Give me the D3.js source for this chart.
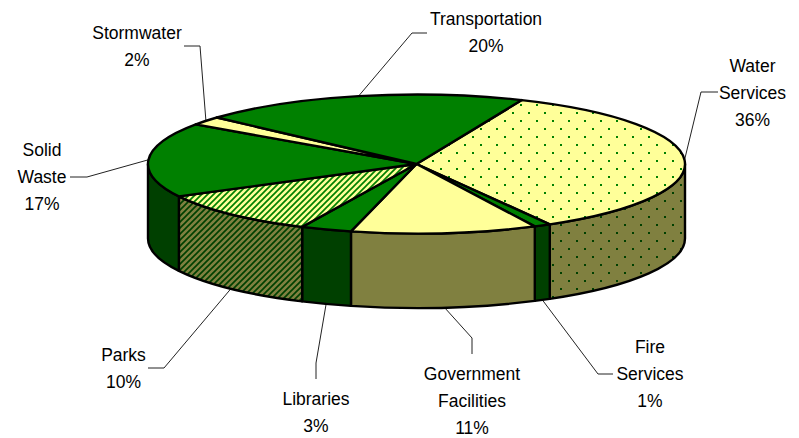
<!DOCTYPE html>
<html><head><meta charset="utf-8">
<script src="https://cdn.jsdelivr.net/npm/d3@7"></script>
<style>html,body{margin:0;padding:0;background:#fff}svg{display:block}text{font-family:"Liberation Sans",Arial,sans-serif;font-size:17.5px;fill:#000}</style>
</head><body><svg id="c" width="799" height="438"></svg>
<script>
const categories = ["Water Services","Fire Services","Government Facilities","Libraries","Parks","Solid Waste","Stormwater","Transportation"];
const values = [36,1,11,3,10,17,2,20];
const labelLines = [["Water","Services","36%"],["Fire","Services","1%"],["Government","Facilities","11%"],["Libraries","3%"],["Parks","10%"],["Solid","Waste","17%"],["Stormwater","2%"],["Transportation","20%"]];
const topFills = ["dotsTop","green","yellow","green","stripesTop","green","yellow","green"];
const sideFills = ["dotsSide","dark","olive","dark","stripesSide","dark","olive","dark"];

// layout
const W=799,H=438,cx=416.5,cy=164,rx=268.5,ry=69.5,depth=74.5,startDeg=22.3;
const rad=Math.PI/180,warpAmp=1.7*rad,warpPhase=50*rad;
const warp=a=>a-warpAmp*Math.sin(a-warpPhase); // perspective of the tilted disc
const labelLayout=[
 {x:752.5,y:72,elbow:[[701,92],[718,92]]},
 {x:650,y:353,elbow:[[598,374],[613,374]]},
 {x:472,y:380,elbow:[[472,338],[472,354]]},
 {x:316,y:405,elbow:[[316,363],[316,379]]},
 {x:123.5,y:361,elbow:[[164,368],[148,368]]},
 {x:42,y:156,elbow:[[87,177],[70,177]]},
 {x:137,y:39,elbow:[[200,46],[184,46]]},
 {x:486,y:25,elbow:[[412,33],[427,33]]}
];
const colors={green:"#008000",dark:"#004000",yellow:"#FFFF99",olive:"#808040"};
const svg=d3.select("#c");
const defs=svg.append("defs");
function dots(id,bg,fg){
  const p=defs.append("pattern").attr("id",id).attr("patternUnits","userSpaceOnUse").attr("width",16).attr("height",16);
  p.append("rect").attr("width",16).attr("height",16).attr("fill",bg);
  [[0,0],[8,8]].forEach(d=>p.append("rect").attr("x",d[0]).attr("y",d[1]).attr("width",2).attr("height",2).attr("fill",fg));
}
function stripes(id,bg,fg){
  const p=defs.append("pattern").attr("id",id).attr("patternUnits","userSpaceOnUse").attr("width",6).attr("height",6);
  p.append("rect").attr("width",6).attr("height",6).attr("fill",bg);
  p.append("path").attr("d","M-1.5,1.5L1.5,-1.5M0,6L6,0M4.5,7.5L7.5,4.5").attr("stroke",fg).attr("stroke-width",1.7);
}
dots("dotsTop",colors.yellow,colors.green);dots("dotsSide",colors.olive,colors.dark);
stripes("stripesTop",colors.yellow,colors.green);stripes("stripesSide",colors.olive,colors.dark);
const fill=k=>colors[k]||`url(#${k})`;

const pie=d3.pie().sort(null).startAngle(startDeg*rad).endAngle((startDeg+360)*rad);
const arcs=pie(values).map(d=>({...d,startAngle:warp(d.startAngle),endAngle:warp(d.endAngle)}));
const px=d3.scaleLinear().domain([-1,1]).range([cx-rx,cx+rx]);
const py=d3.scaleLinear().domain([-1,1]).range([cy-ry,cy+ry]);
const pt=a=>[px(Math.sin(a)),py(-Math.cos(a))];

// leader lines
const line=d3.line();
svg.append("g").selectAll("path").data(arcs).join("path")
  .attr("fill","none").attr("stroke","#222").attr("stroke-width",1)
  .attr("d",(d,i)=>{
    const mid=(d.startAngle+d.endAngle)/2,p=pt(mid);
    const front=Math.cos(mid)<0;
    return line([[p[0],p[1]+(front?depth:0)],...labelLayout[i].elbow]);
  });

// side walls
const sw=2.4;
const TAU=2*Math.PI,lo=Math.PI/2,hi=1.5*Math.PI;
const side=svg.append("g");
arcs.forEach((d,i)=>{
  const a0=d.startAngle%TAU,a1=a0+(d.endAngle-d.startAngle);
  const s=Math.max(a0,lo),e=Math.min(a1,hi);
  if(e<=s)return;
  const A=pt(s),B=pt(e);
  side.append("path")
   .attr("d",`M${A[0]},${A[1]}A${rx},${ry} 0 0 1 ${B[0]},${B[1]}L${B[0]},${B[1]+depth}A${rx},${ry} 0 0 0 ${A[0]},${A[1]+depth}Z`)
   .attr("fill",fill(sideFills[i])).attr("stroke","#000").attr("stroke-width",sw).attr("stroke-linejoin","round");
});
// top slices
svg.append("g").selectAll("path").data(arcs).join("path")
  .attr("d",d=>{
    const A=pt(d.startAngle),B=pt(d.endAngle);
    const large=d.endAngle-d.startAngle>Math.PI?1:0;
    return `M${cx},${cy}L${A[0]},${A[1]}A${rx},${ry} 0 ${large} 1 ${B[0]},${B[1]}Z`;
  })
  .attr("fill",(d,i)=>fill(topFills[i])).attr("stroke","#000").attr("stroke-width",sw).attr("stroke-linejoin","round");

// labels
const lh=27;
const lab=svg.append("g").selectAll("text").data(labelLines).join("text")
  .attr("text-anchor","middle").attr("aria-label",(d,i)=>categories[i]);
lab.each(function(d,i){
  d3.select(this).selectAll("tspan").data(d).join("tspan")
    .attr("x",labelLayout[i].x).attr("y",(t,j)=>labelLayout[i].y+j*lh).text(t=>t);
});
</script></body></html>
